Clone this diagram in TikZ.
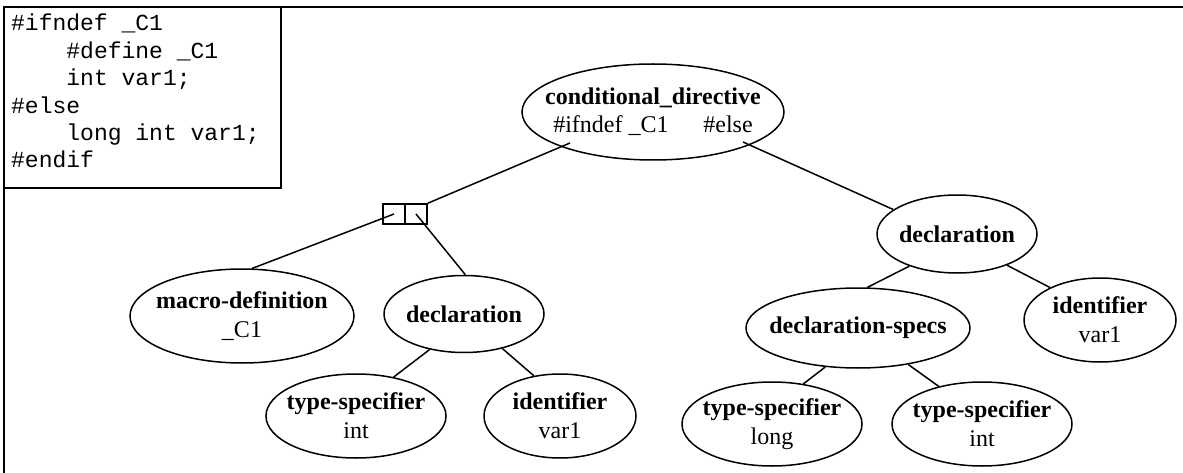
\documentclass[tikz,border=0pt]{standalone}
\usepackage{fontspec}
\setmainfont{Liberation Serif}
\newfontfamily\codefont{Liberation Mono}
\usetikzlibrary{shapes.geometric,calc}
\newcommand{\zw}[1]{\makebox[0pt][c]{#1}}
\tikzset{
  nd/.style={ellipse, draw, line width=1.5pt, inner sep=0pt, align=center,
    font=\fontsize{24}{29}\selectfont},
  cell/.style={rectangle, draw, line width=1.5pt, inner sep=0pt,
    minimum width=22pt, minimum height=20pt},
  edge/.style={line width=1.5pt},
  frame/.style={line width=2pt}
}
\begin{document}
\begin{tikzpicture}[x=1pt,y=-1pt]
\useasboundingbox (0,0) rectangle (1183,473);
% outer frame and code box
\draw[frame] (1183,7) -- (4,7) -- (4,473);
\draw[frame] (4,7) rectangle (281,188);
\node[anchor=north west, inner sep=0pt, align=left,
  font=\codefont\fontsize{23}{27.4}\selectfont] (code) at (11,14)
  {\#ifndef \_C1\\
   \phantom{0000}\#define \_C1\\
   \phantom{0000}int var1;\\
   \#else\\
   \phantom{0000}long int var1;\\
   \#endif};
% nodes
\node[nd, minimum width=262pt, minimum height=96pt] (cd) at (653,112)
  {\zw{\textbf{conditional\_directive}}\\[-1pt]\zw{\#ifndef \_C1\hspace{1.45em}\#else}};
\node[cell] (c1) at (394,214) {};
\node[cell] (c2) at (416,214) {};
\node[nd, minimum width=224pt, minimum height=94pt] (md) at (242,316)
  {\zw{\textbf{macro-definition}}\\\zw{\_C1}};
\node[nd, minimum width=160pt, minimum height=77pt] (dl) at (464,314)
  {\zw{\textbf{declaration}}};
\node[nd, minimum width=180pt, minimum height=84pt] (ts1) at (356,416)
  {\zw{\textbf{type-specifier}}\\\zw{int}};
\node[nd, minimum width=152pt, minimum height=84pt] (id1) at (560,416)
  {\zw{\textbf{identifier}}\\\zw{var1}};
\node[nd, minimum width=160pt, minimum height=78pt] (dr) at (957,234)
  {\zw{\textbf{declaration}}};
\node[nd, minimum width=224pt, minimum height=80pt] (ds) at (858,328)
  {\zw{\textbf{declaration-specs}}};
\node[nd, minimum width=152pt, minimum height=84pt] (id2) at (1100,320)
  {\zw{\textbf{identifier}}\\\zw{var1}};
\node[nd, minimum width=180pt, minimum height=84pt] (ts2) at (772,424)
  {\zw{\textbf{type-specifier}}\\\zw{long}};
\node[nd, minimum width=180pt, minimum height=84pt] (ts3) at (982,424)
  {\zw{\textbf{type-specifier}}\\\zw{int}};
% connector ends inside the root node
\coordinate (cdL) at ([shift={(-83,31)}]cd.center);
\coordinate (cdR) at ([shift={(90,30)}]cd.center);
% edges
\draw[edge] (cdL) -- (c2.north east);
\draw[edge] (c1.center) -- (md.78);
\draw[edge] (c2.center) -- (dl.88);
\draw[edge] (dl.-134) -- (ts1.46);
\draw[edge] (dl.-42) -- (id1.123);
\draw[edge] (cdR) -- (dr.159);
\draw[edge] (dr.-146) -- (ds.77);
\draw[edge] (dr.-32) -- (id2.147);
\draw[edge] (ds.-130) -- (ts2.52);
\draw[edge] (ds.-36) -- (ts3.139);
\end{tikzpicture}
\end{document}
